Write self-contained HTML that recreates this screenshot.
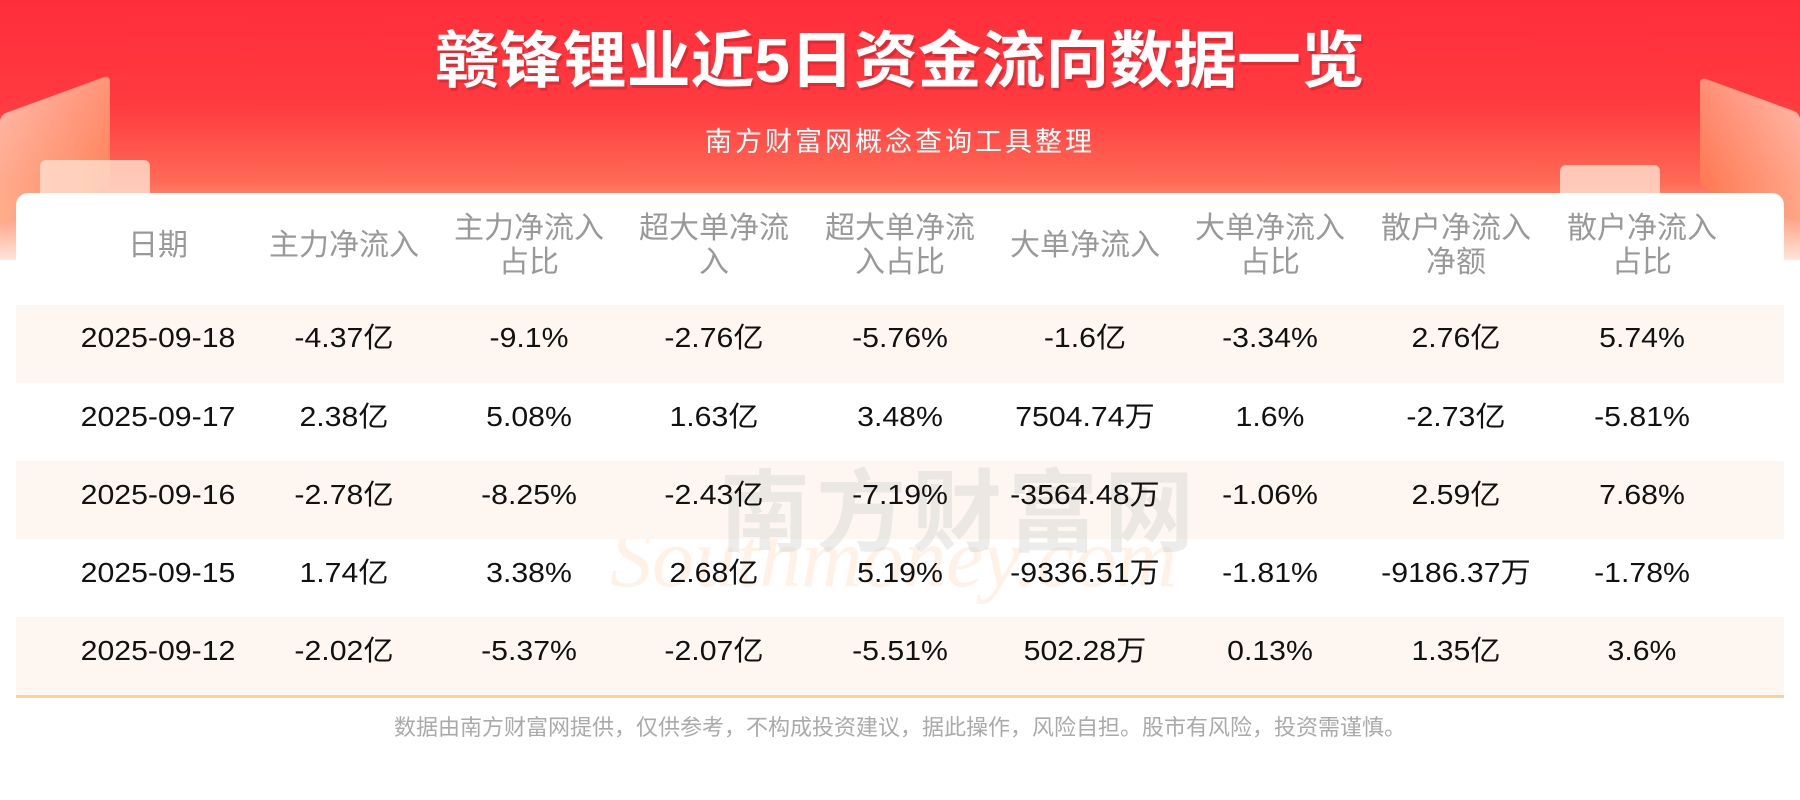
<!DOCTYPE html>
<html><head><meta charset="utf-8"><style>
body{margin:0;width:1800px;height:800px;overflow:hidden;background:#fff;font-family:"Liberation Sans","Noto Sans CJK SC",sans-serif;position:relative}
.bg{position:absolute;left:0;top:0;width:1800px;height:260px;background:linear-gradient(180deg,#ff2e3b 0%,#ff3a40 40%,#ff6a55 70%,#ffb49a 88%,#ffe6dc 100%)}
.deco{position:absolute;border-radius:6px}
.title{position:absolute;left:0;width:1800px;top:24px;text-align:center;color:#fff;font-weight:bold;font-size:62px;line-height:76px;transform:scaleX(1.03);text-shadow:2px 3px 0 rgba(170,20,30,.35)}
.sub{position:absolute;left:0;width:1800px;top:122px;text-align:center;color:#fff;font-size:27px;line-height:40px;letter-spacing:3px}
.card{position:absolute;left:16px;top:193px;width:1768px;height:510px;background:#fff;border-radius:12px 12px 0 0}
.hd,.row{position:absolute;left:16px;width:1768px}
.cell{position:absolute;width:200px;margin-left:-100px;text-align:center}
.hd .cell{color:#999;font-size:30px;line-height:34px}
.row{height:78px}
.row .cell{color:#111;font-size:28px;line-height:78px;top:0;transform:scaleX(1.08)}
.band{background:#fef7f1}
.wm1{position:absolute;left:720px;top:440px;font-size:90px;font-weight:bold;color:rgba(200,200,200,.35);letter-spacing:6px}
.wm2{position:absolute;left:610px;top:510px;font-size:84px;font-style:italic;font-family:"Liberation Serif",serif;color:rgba(255,200,150,.25)}
.line{position:absolute;left:16px;width:1768px;top:695px;height:3px;background:#ffcf9e}
.foot{position:absolute;left:0;width:1800px;top:711px;text-align:center;color:#aaa;font-size:22px;line-height:34px}
</style></head><body>
<div class="bg"></div>
<div class="deco" style="left:0;top:95px;width:110px;height:110px;background:linear-gradient(135deg,#ffd0b8,#ff8a5a);transform:skewY(-20deg);opacity:.8"></div>
<div class="deco" style="left:40px;top:160px;width:110px;height:40px;background:#ffe0d0;opacity:.8"></div>
<div class="deco" style="left:1700px;top:95px;width:100px;height:110px;background:linear-gradient(225deg,#ffd0b8,#ff7a50);transform:skewY(20deg);opacity:.8"></div>
<div class="deco" style="left:1560px;top:165px;width:100px;height:35px;background:#ffe0d0;opacity:.8"></div>
<div class="title">赣锋锂业近5日资金流向数据一览</div>
<div class="sub">南方财富网概念查询工具整理</div>
<div class="card"></div>
<div class="hd" style="top:212px">
<div class="cell" style="left:142px;top:17px">日期</div>
<div class="cell" style="left:328px;top:17px">主力净流入</div>
<div class="cell" style="left:513px">主力净流入<br>占比</div>
<div class="cell" style="left:698px">超大单净流<br>入</div>
<div class="cell" style="left:884px">超大单净流<br>入占比</div>
<div class="cell" style="left:1069px;top:17px">大单净流入</div>
<div class="cell" style="left:1254px">大单净流入<br>占比</div>
<div class="cell" style="left:1440px">散户净流入<br>净额</div>
<div class="cell" style="left:1626px">散户净流入<br>占比</div>
</div>
<div class="wm2">Southmoney.com</div>
<div class="row band" style="top:305px"></div>
<div class="row band" style="top:461px"></div>
<div class="row band" style="top:617px"></div>
<div class="wm1">南方财富网</div>
<div class="row" style="top:299px"><div class="cell" style="left:142px">2025-09-18</div><div class="cell" style="left:328px">-4.37亿</div><div class="cell" style="left:513px">-9.1%</div><div class="cell" style="left:698px">-2.76亿</div><div class="cell" style="left:884px">-5.76%</div><div class="cell" style="left:1069px">-1.6亿</div><div class="cell" style="left:1254px">-3.34%</div><div class="cell" style="left:1440px">2.76亿</div><div class="cell" style="left:1626px">5.74%</div></div>
<div class="row" style="top:378px"><div class="cell" style="left:142px">2025-09-17</div><div class="cell" style="left:328px">2.38亿</div><div class="cell" style="left:513px">5.08%</div><div class="cell" style="left:698px">1.63亿</div><div class="cell" style="left:884px">3.48%</div><div class="cell" style="left:1069px">7504.74万</div><div class="cell" style="left:1254px">1.6%</div><div class="cell" style="left:1440px">-2.73亿</div><div class="cell" style="left:1626px">-5.81%</div></div>
<div class="row" style="top:456px"><div class="cell" style="left:142px">2025-09-16</div><div class="cell" style="left:328px">-2.78亿</div><div class="cell" style="left:513px">-8.25%</div><div class="cell" style="left:698px">-2.43亿</div><div class="cell" style="left:884px">-7.19%</div><div class="cell" style="left:1069px">-3564.48万</div><div class="cell" style="left:1254px">-1.06%</div><div class="cell" style="left:1440px">2.59亿</div><div class="cell" style="left:1626px">7.68%</div></div>
<div class="row" style="top:534px"><div class="cell" style="left:142px">2025-09-15</div><div class="cell" style="left:328px">1.74亿</div><div class="cell" style="left:513px">3.38%</div><div class="cell" style="left:698px">2.68亿</div><div class="cell" style="left:884px">5.19%</div><div class="cell" style="left:1069px">-9336.51万</div><div class="cell" style="left:1254px">-1.81%</div><div class="cell" style="left:1440px">-9186.37万</div><div class="cell" style="left:1626px">-1.78%</div></div>
<div class="row" style="top:612px"><div class="cell" style="left:142px">2025-09-12</div><div class="cell" style="left:328px">-2.02亿</div><div class="cell" style="left:513px">-5.37%</div><div class="cell" style="left:698px">-2.07亿</div><div class="cell" style="left:884px">-5.51%</div><div class="cell" style="left:1069px">502.28万</div><div class="cell" style="left:1254px">0.13%</div><div class="cell" style="left:1440px">1.35亿</div><div class="cell" style="left:1626px">3.6%</div></div>
<div class="line"></div>
<div class="foot">数据由南方财富网提供，仅供参考，不构成投资建议，据此操作，风险自担。股市有风险，投资需谨慎。</div>
</body></html>
